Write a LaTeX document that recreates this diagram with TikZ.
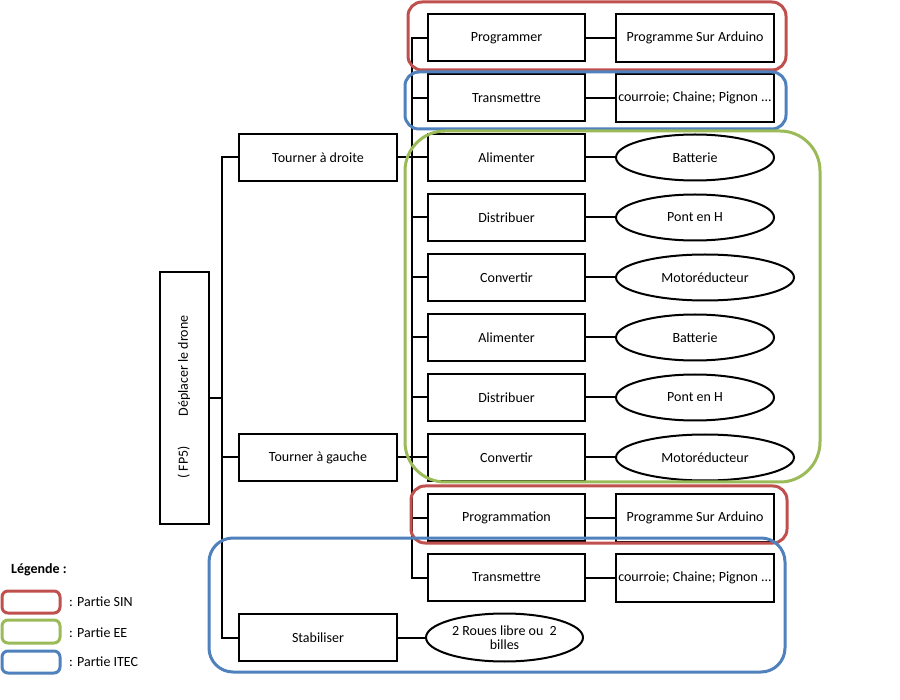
\documentclass[tikz,border=0pt]{standalone}
\usepackage{fontspec}
\setmainfont{Carlito}
\usetikzlibrary{shapes.geometric}
\definecolor{sinred}{HTML}{C0504D}
\definecolor{eegreen}{HTML}{9BBB59}
\definecolor{itecblue}{HTML}{4F81BD}
\begin{document}
\begin{tikzpicture}[x=1pt,y=-1pt,
  every node/.style={font=\fontsize{14}{15.5}\selectfont, inner sep=1pt},
  fbox/.style={draw, line width=2pt, fill=white, minimum width=157pt, minimum height=47pt},
  sbox/.style={draw, line width=2pt, fill=white, minimum width=158pt, minimum height=48pt},
  sell/.style={draw, ellipse, line width=2pt, fill=white, minimum width=158pt, minimum height=46pt, inner sep=0pt},
  link/.style={line width=2pt},
  frame/.style={line width=3pt, rounded corners=#1},
  frame/.default=14pt]
\useasboundingbox (0,0) rectangle (900,700);
\fill[white] (0,0) rectangle (900,700);

% main function
\node[draw, line width=2pt, fill=white, minimum width=49pt, minimum height=252pt] (fp) at (184,398) {};
\node[rotate=90] (fpt) at (184,397) {( FP5)\hspace{30pt}Déplacer le drone};

% level 1
\node[fbox, minimum width=158pt] (td) at (318,157.5) {Tourner à droite};
\node[fbox, minimum width=158pt] (tg) at (318,457.5) {Tourner à gauche};
\node[fbox, minimum width=158pt] (st) at (318,637.5) {Stabiliser};

% level 2 functions
\node[fbox] (f1) at (506.5,38) {Programmer};
\node[fbox] (f2) at (506.5,98) {Transmettre};
\node[fbox] (f3) at (506.5,157.5) {Alimenter};
\node[fbox] (f4) at (506.5,217.5) {Distribuer};
\node[fbox] (f5) at (506.5,277.5) {Convertir};
\node[fbox] (f6) at (506.5,337.5) {Alimenter};
\node[fbox] (f7) at (506.5,397.5) {Distribuer};
\node[fbox] (f8) at (506.5,457.5) {Convertir};
\node[fbox] (f9) at (506.5,517.5) {Programmation};
\node[fbox] (f10) at (506.5,577.5) {Transmettre};

% solutions
\node[sbox] (s1) at (695,38) {Programme Sur Arduino};
\node[sbox] (s2) at (695,98) {courroie; Chaine; Pignon ...};
\node[sell] (s3) at (695,157.5) {Batterie};
\node[sell] (s4) at (695,217.5) {Pont en H};
\node[sell, minimum width=178pt] (s5) at (705,277.5) {Motoréducteur};
\node[sell] (s6) at (695,337.5) {Batterie};
\node[sell] (s7) at (695,397.5) {Pont en H};
\node[sell, minimum width=178pt] (s8) at (705,457.5) {Motoréducteur};
\node[sbox] (s9) at (695,517.5) {Programme Sur Arduino};
\node[sbox] (s10) at (695,577.5) {courroie; Chaine; Pignon ...};
\node[sell, minimum width=157pt, minimum height=48pt, align=center] (s11) at (504.5,637.5) {2 Roues libre ou\ \ 2\\[-2pt]billes};

% connectors: main tree
\coordinate (mtop) at (222,157.5);
\coordinate (mbot) at (222,637.5);
\draw[link] (td.west) -- (mtop) -- (mbot) -- (st.west);
\draw[link] (fp.east) -- (fp.east -| mtop);
\draw[link] (tg.west) -- (tg.west -| mtop);

% right tree
\coordinate (rtop) at (412,38);
\coordinate (rbot) at (412,577.5);
\draw[link] (f1.west) -- (rtop) -- (rbot) -- (f10.west);
\foreach \i in {2,...,9} {\draw[link] (f\i.west) -- (f\i.west -| rtop);}
\draw[link] (td.east) -- (td.east -| rtop);
\draw[link] (tg.east) -- (tg.east -| rtop);

% function to solution
\foreach \i in {1,...,10} {\draw[link] (f\i.east) -- (s\i.west);}
\draw[link] (st.east) -- (s11.west);

% coloured frames
\draw[frame, sinred] (408,2) rectangle (786,70);
\draw[frame, itecblue] (405,72) rectangle (786,129);
\draw[frame=40pt, eegreen] (405,131) rectangle (820,482);
\draw[frame, sinred] (411,486) rectangle (787,543);
\draw[frame=24pt, itecblue] (209,538) rectangle (785,672);

% legend
\node[anchor=west, font=\fontsize{14}{15.5}\selectfont\bfseries] (lg) at (10,570) {Légende :};
\draw[frame=6pt, sinred] (2,591) rectangle (60,613);
\draw[frame=6pt, eegreen] (2,620) rectangle (60,643);
\draw[frame=6pt, itecblue] (2,651) rectangle (60,673);
\node[anchor=west] (l1) at (68,602) {: Partie SIN};
\node[anchor=west] (l2) at (68,633) {: Partie EE};
\node[anchor=west] (l3) at (68,662) {: Partie ITEC};
\end{tikzpicture}
\end{document}
